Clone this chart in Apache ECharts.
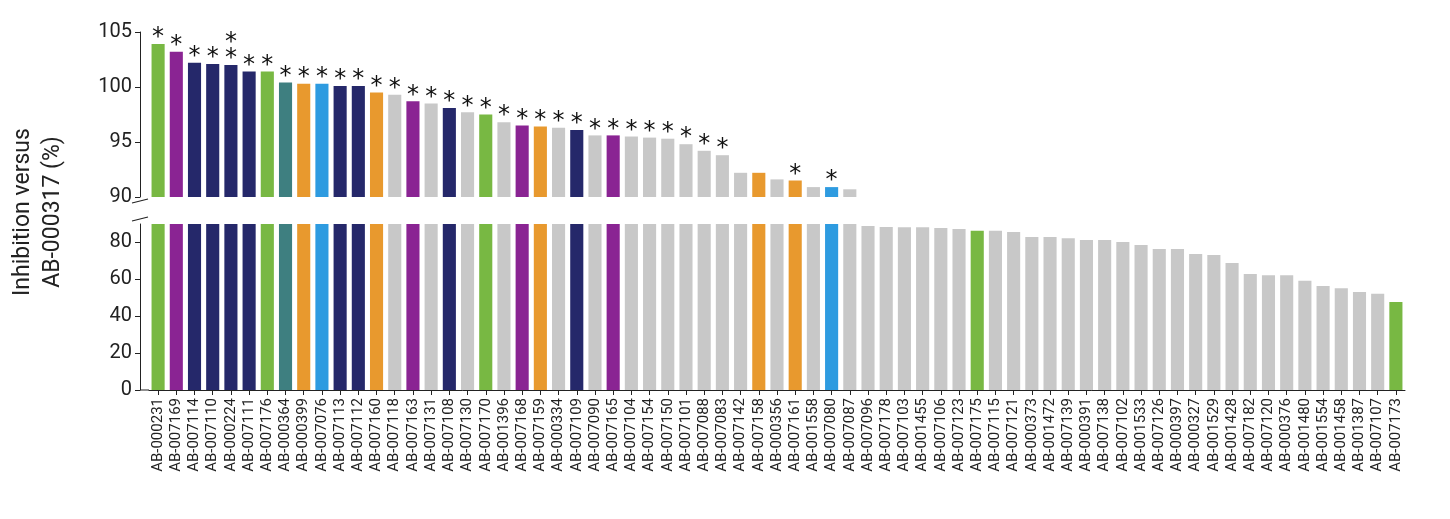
<!DOCTYPE html>
<html>
<head>
<meta charset="utf-8">
<script src="https://cdn.jsdelivr.net/npm/echarts@6/dist/echarts.min.js"></script>
<style>html,body{margin:0;padding:0;background:#fff}#chart{width:1450px;height:519px}</style>
</head>
<body>
<div id="chart"></div>
<script>
var categories = ['AB-000231','AB-007169','AB-007114','AB-007110','AB-000224','AB-007111','AB-007176','AB-000364','AB-000399','AB-007076','AB-007113','AB-007112','AB-007160','AB-007118','AB-007163','AB-007131','AB-007108','AB-007130','AB-007170','AB-001396','AB-007168','AB-007159','AB-000334','AB-007109','AB-007090','AB-007165','AB-007104','AB-007154','AB-007150','AB-007101','AB-007088','AB-007083','AB-007142','AB-007158','AB-000356','AB-007161','AB-001558','AB-007080','AB-007087','AB-007096','AB-007178','AB-007103','AB-001455','AB-007106','AB-007123','AB-007175','AB-007115','AB-007121','AB-000373','AB-001472','AB-007139','AB-000391','AB-007138','AB-007102','AB-001533','AB-007126','AB-000397','AB-000327','AB-001529','AB-001428','AB-007182','AB-007120','AB-000376','AB-001480','AB-001554','AB-001458','AB-001387','AB-007107','AB-007173'];
var values = [103.9,103.2,102.2,102.1,102.0,101.4,101.4,100.4,100.3,100.3,100.1,100.1,99.5,99.3,98.7,98.5,98.1,97.7,97.5,96.8,96.5,96.4,96.3,96.1,95.6,95.6,95.5,95.4,95.3,94.8,94.2,93.8,92.2,92.2,91.6,91.5,90.9,90.9,90.7,88.6,88.1,88.0,88.0,87.6,87.0,86.0,86.0,85.4,82.7,82.7,82.0,81.0,81.0,80.0,78.4,76.2,76.2,73.5,73.0,68.6,62.7,62.0,62.0,59.0,56.2,55.0,53.0,52.0,47.6];
// g green, p purple, n navy, t teal, o orange, b blue, x grey
var groups = 'gpnnnngtobnnoxpxnxgxpoxnxpxxxxxxxoxoxbxxxxxxxgxxxxxxxxxxxxxxxxxxxxxxg';
var stars = [1,1,1,1,2,1,1,1,1,1,1,1,1,1,1,1,1,1,1,1,1,1,1,1,1,1,1,1,1,1,1,1,0,0,0,1,0,1,0];
var palette = {g:'#78b843',p:'#8a2493',n:'#25286a',t:'#3e7f80',o:'#e8992e',b:'#2e9be0',x:'#c8c8c8'};

var breakTop = 89.7;
var colors = categories.map(function(c, i){ return palette[groups[i]]; });
var lowData = values.map(function(v, i){ return {value: Math.min(v, breakTop), itemStyle:{color: colors[i]}}; });
var highData = values.map(function(v, i){
	if (v < 90) return '-';
	return {value: v, itemStyle:{color: colors[i]}, star: stars[i] || 0};
});

var myChart = echarts.init(document.getElementById('chart'));
var axisFont = {color:'#222', fontSize:20, fontFamily:'Roboto'};
myChart.setOption({
	animation: false,
	grid: [
		{left:149, right:45, top:32, height:165},
		{left:149, right:45, top:224, height:166}
	],
	xAxis: [
		{gridIndex:0, type:'category', data:categories, show:false},
		{gridIndex:1, type:'category', data:categories,
			axisLine:{lineStyle:{color:'#222'}},
			axisTick:{show:true, alignWithLabel:true, lineStyle:{color:'#222'}},
			axisLabel:{rotate:90, interval:0, fontSize:15, color:'#222', fontFamily:'Roboto', margin:8}}
	],
	yAxis: [
		{gridIndex:0, type:'value', min:90, max:105, interval:5, offset:9,
			axisLine:{show:true, lineStyle:{color:'#222'}}, axisTick:{show:true, lineStyle:{color:'#222'}},
			splitLine:{show:false}, axisLabel:axisFont},
		{gridIndex:1, type:'value', min:0, max:breakTop, interval:20, offset:9,
			axisLine:{show:true, lineStyle:{color:'#222'}}, axisTick:{show:true, lineStyle:{color:'#222'}},
			splitLine:{show:false}, axisLabel:Object.assign({showMaxLabel:false}, axisFont)}
	],
	graphic: [
		{type:'text', x:38, y:212, rotation:Math.PI/2, style:{text:'Inhibition versus\nAB-000317 (%)', fontSize:23, fill:'#222', fontFamily:'Roboto', align:'center', verticalAlign:'middle', lineHeight:30}},
		{type:'line', shape:{x1:132, y1:203, x2:148, y2:199}, style:{stroke:'#222', lineWidth:1.2}},
		{type:'line', shape:{x1:132, y1:221, x2:148, y2:217}, style:{stroke:'#222', lineWidth:1.2}},
		{type:'line', shape:{x1:140, y1:390, x2:149, y2:390}, style:{stroke:'#222', lineWidth:1}}
	],
	series: [
		{type:'bar', xAxisIndex:0, yAxisIndex:0, data:highData, barCategoryGap:'28%',
			label:{show:true, position:'top', distance:-2, color:'#111', fontSize:24, lineHeight:16, fontFamily:'DejaVu Sans',
				formatter:function(p){ var n = p.data.star; return n === 2 ? '*\n*' : (n === 1 ? '*' : ''); }}},
		{type:'bar', xAxisIndex:1, yAxisIndex:1, data:lowData, barCategoryGap:'28%'}
	]
});
</script>
</body>
</html>
